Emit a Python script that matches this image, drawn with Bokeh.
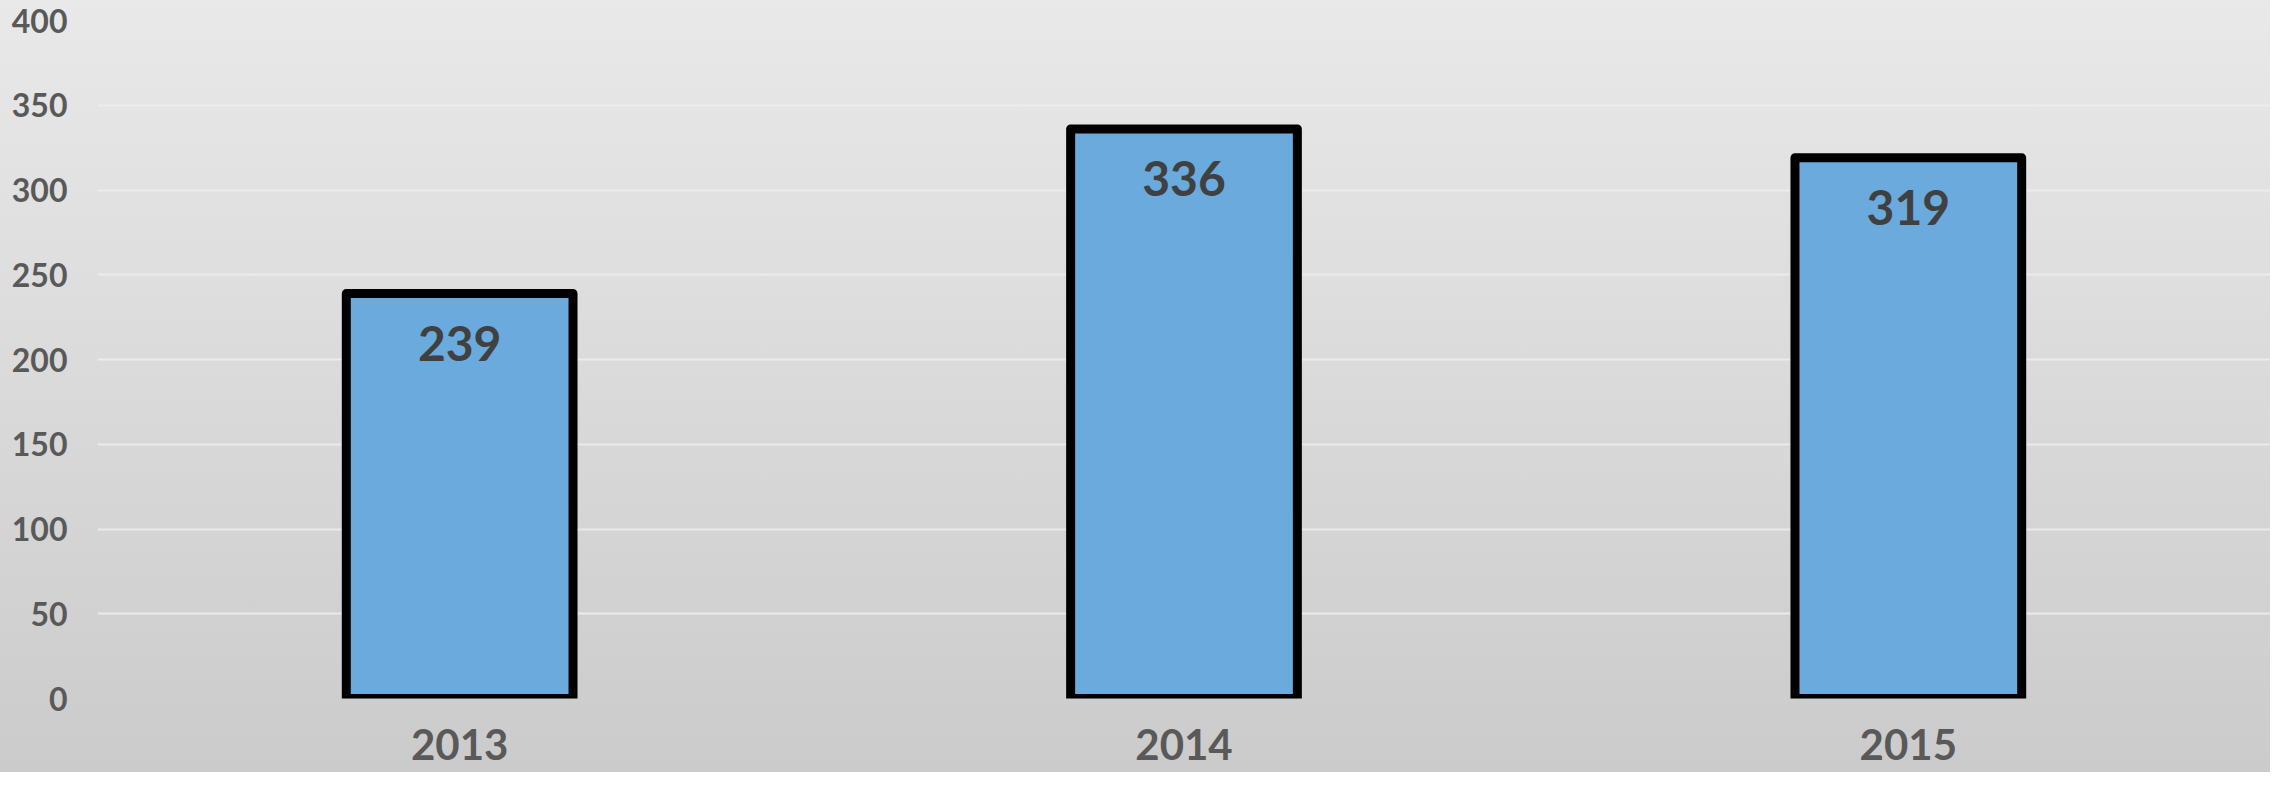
from bokeh.plotting import figure
from bokeh.models import ColumnDataSource, FixedTicker
from bokeh.core.properties import value
from bokeh.embed import file_html
from bokeh.resources import INLINE

years = ["2013", "2014", "2015"]
counts = [239, 336, 319]
y_ticks = [0, 50, 100, 150, 200, 250, 300, 350, 400]

FONT = "Lato"

src = ColumnDataSource(dict(year=years, count=counts, label=[str(c) for c in counts]))

p = figure(
    x_range=years, y_range=(0, 400),
    width=2270, height=772,
    output_backend="svg", toolbar_location=None,
    min_border_left=97, min_border_right=0, min_border_top=20, min_border_bottom=74,
)
p.styles = {"background": "linear-gradient(to bottom, #e9e9e9, #cbcbcb)"}
p.border_fill_alpha = 0
p.background_fill_alpha = 0
p.outline_line_color = None

p.vbar(x="year", top="count", bottom=0, width=0.313, source=src,
       fill_color="#6aaadc", line_color="black", line_width=9, line_join="round")

p.text(x="year", y="count", text="label", source=src,
       text_align="center", text_baseline="middle", y_offset=50,
       text_font=value(FONT), text_font_style="bold", text_font_size="48px",
       text_color="#404040")

p.xgrid.grid_line_color = None
p.ygrid.grid_line_color = "#ececec"
p.ygrid.grid_line_width = 2
p.ygrid.grid_line_alpha = 0.9

p.yaxis.ticker = FixedTicker(ticks=y_ticks)
for ax in (p.xaxis, p.yaxis):
    ax.axis_line_color = None
    ax.major_tick_line_color = None
    ax.minor_tick_line_color = None
    ax.major_tick_out = 0
    ax.major_tick_in = 0
    ax.major_label_text_font = FONT
    ax.major_label_text_font_style = "bold"
    ax.major_label_text_color = "#595959"

p.yaxis.major_label_text_font_size = "32px"
p.yaxis.major_label_standoff = 30
p.xaxis.major_label_text_font_size = "42px"
p.xaxis.major_label_standoff = 30
p.x_range.range_padding = 0

open("out.html", "w").write(file_html(p, INLINE))
